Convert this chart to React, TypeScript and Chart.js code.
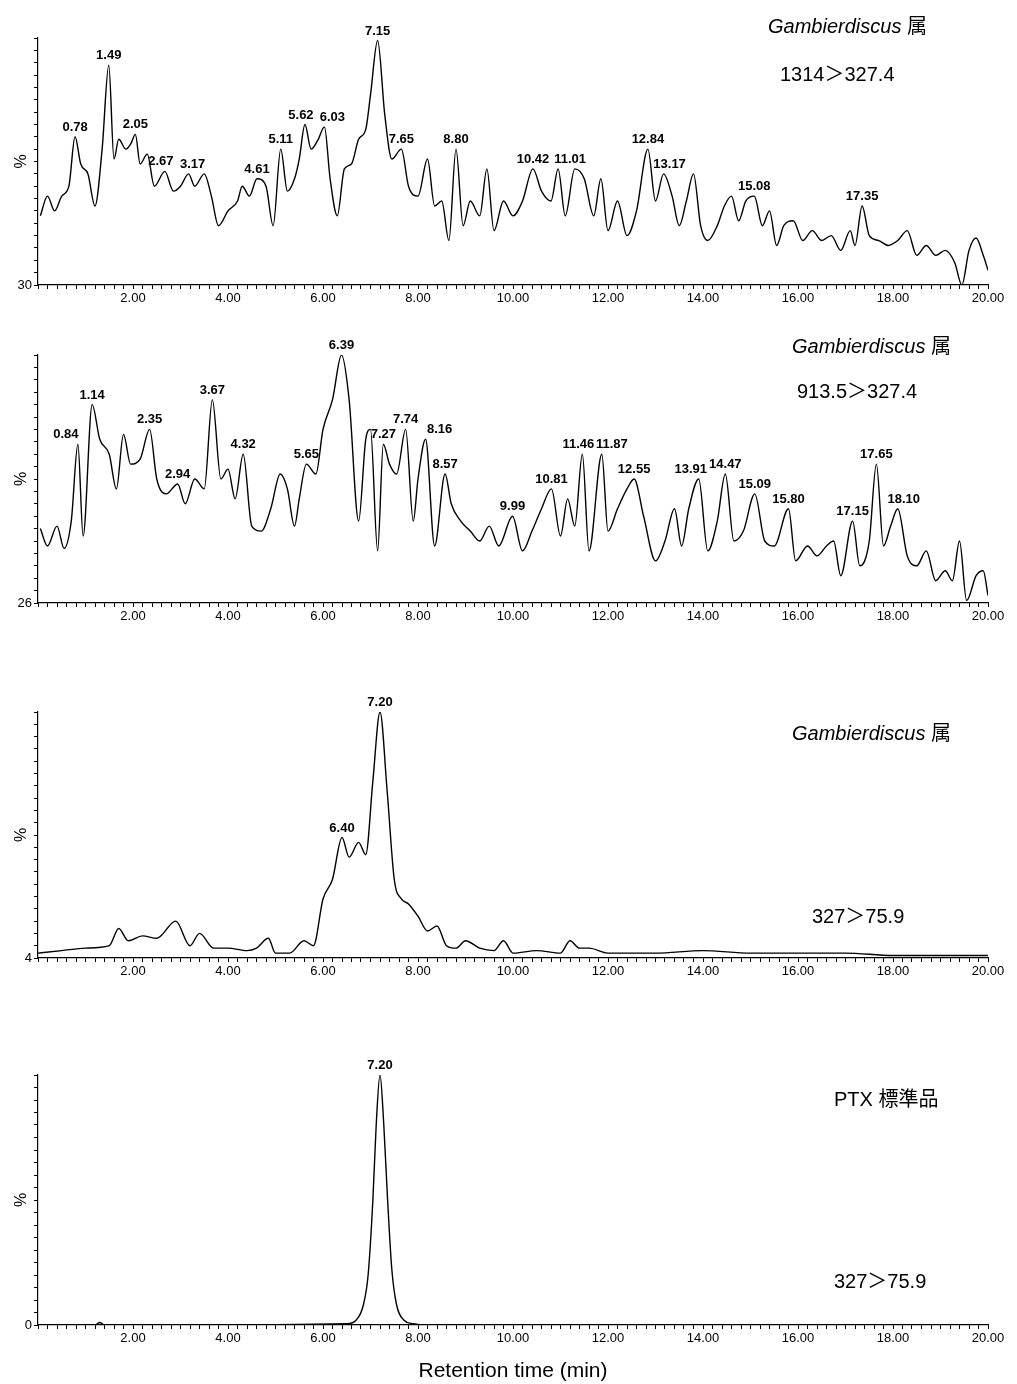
import React, { useEffect, useRef } from "react";
import { Chart, registerables } from "chart.js";
Chart.register(...registerables);

const xTicks = ["2.00","4.00","6.00","8.00","10.00","12.00","14.00","16.00","18.00","20.00"];

const rt1 = [0.05,0.2,0.35,0.5,0.65,0.78,0.9,1.05,1.2,1.35,1.49,1.6,1.7,1.85,1.95,2.05,2.15,2.3,2.45,2.67,2.85,3.0,3.17,3.3,3.5,3.65,3.8,4.0,4.2,4.3,4.45,4.61,4.8,4.95,5.11,5.25,5.4,5.5,5.62,5.75,5.9,6.03,6.15,6.3,6.45,6.6,6.75,6.9,7.0,7.15,7.3,7.45,7.65,7.8,8.0,8.2,8.35,8.5,8.65,8.8,8.95,9.1,9.3,9.45,9.6,9.8,10.0,10.2,10.42,10.6,10.8,10.95,11.1,11.3,11.5,11.7,11.85,12.0,12.2,12.4,12.6,12.84,13.0,13.17,13.35,13.5,13.65,13.8,13.95,14.1,14.3,14.45,14.6,14.75,14.9,15.08,15.25,15.4,15.55,15.7,15.9,16.1,16.3,16.5,16.7,16.9,17.1,17.2,17.35,17.5,17.7,17.9,18.1,18.3,18.5,18.7,18.9,19.1,19.3,19.45,19.6,19.75,19.9,20.0];
const int1 = [28,36,30,36,40,60,49,45,32,55,89,51,59,55,57,61,49,53,40,46,38,40,45,40,45,36,24,30,34,40,36,43,40,24,55,38,43,51,65,55,59,64,43,28,47,49,59,63,77,99,69,51,55,40,36,51,32,34,18,55,24,34,28,47,22,34,28,34,47,38,34,47,28,47,43,28,43,22,34,20,30,55,34,45,36,24,34,45,24,18,24,32,36,26,34,36,24,30,16,24,26,18,22,18,20,14,22,16,32,20,18,16,18,22,12,16,12,14,9,0,14,19,12,6];
const peaks1 = [["0.78",0.78,0],["1.49",1.49,0],["2.05",2.05,0],["2.67",2.67,-4],["3.17",3.17,4],["4.61",4.61,0],["5.11",5.11,0],["5.62",5.62,-4],["6.03",6.03,8],["7.15",7.15,0],["7.65",7.65,0],["8.80",8.8,0],["10.42",10.42,0],["11.01",10.95,12],["12.84",12.84,0],["13.17",13.17,6],["15.08",15.08,0],["17.35",17.35,0]];

const rt2 = [0.05,0.2,0.4,0.55,0.7,0.84,0.95,1.14,1.3,1.5,1.65,1.8,1.95,2.15,2.35,2.5,2.7,2.94,3.1,3.3,3.5,3.67,3.85,4.0,4.15,4.32,4.5,4.7,4.9,5.1,5.25,5.4,5.5,5.65,5.85,6.0,6.2,6.39,6.55,6.75,6.9,7.0,7.15,7.27,7.4,7.55,7.74,7.9,8.0,8.16,8.35,8.57,8.7,8.9,9.1,9.3,9.5,9.7,9.99,10.2,10.4,10.6,10.81,11.0,11.15,11.3,11.46,11.6,11.87,12.0,12.2,12.4,12.55,12.75,13.0,13.2,13.4,13.55,13.7,13.91,14.1,14.3,14.47,14.65,14.85,15.09,15.3,15.5,15.8,15.95,16.2,16.4,16.6,16.75,16.9,17.15,17.3,17.5,17.65,17.8,17.95,18.1,18.3,18.5,18.7,18.9,19.1,19.25,19.4,19.55,19.75,19.9,20.0];
const int2 = [30,23,31,22,33,64,27,80,66,60,46,68,56,58,70,50,44,48,40,50,46,82,50,54,42,60,31,29,38,52,46,31,42,56,52,70,82,100,82,33,66,70,21,64,56,52,70,33,50,66,23,52,40,33,29,25,31,23,35,21,29,38,46,27,42,31,60,21,60,29,38,46,50,35,17,25,38,23,38,50,21,33,52,25,29,44,25,23,38,17,23,19,23,25,11,33,15,25,56,23,31,38,19,15,21,9,13,9,25,1,11,13,3];
const peaks2 = [["0.84",0.84,-12],["1.14",1.14,0],["2.35",2.35,0],["2.94",2.94,0],["3.67",3.67,0],["4.32",4.32,0],["5.65",5.65,0],["6.39",6.39,0],["7.27",7.27,0],["7.74",7.74,0],["8.16",8.16,14],["8.57",8.57,0],["9.99",9.99,0],["10.81",10.81,0],["11.46",11.46,-4],["11.87",11.87,10],["12.55",12.55,0],["13.91",13.91,-8],["14.47",14.47,0],["15.09",15.09,0],["15.80",15.8,0],["17.15",17.15,0],["17.65",17.65,0],["18.10",18.1,6]];

const rt3 = [0,0.5,1.0,1.5,1.7,1.9,2.2,2.5,2.9,3.2,3.4,3.7,4.0,4.4,4.6,4.85,5.0,5.3,5.6,5.8,6.0,6.2,6.4,6.55,6.75,6.9,7.05,7.2,7.35,7.5,7.65,7.8,8.0,8.2,8.4,8.6,8.8,9.0,9.3,9.6,9.8,10.0,10.5,11.0,11.2,11.4,11.6,12.0,13.0,14.0,15.0,16.0,17.0,18.0,19.0,20.0];
const int3 = [2,3,4,5,12,7,9,8,15,5,10,4,4,3,4,8,2,2,7,5,24,32,49,41,47,42,72,100,68,32,24,22,17,11,13,5,4,7,4,3,7,2,3,2,7,4,4,2,2,3,2,2,2,1,1,1];
const peaks3 = [["6.40",6.4,0],["7.20",7.2,0]];

const rt4 = [0,1.2,1.3,1.4,3,6.5,6.7,6.85,6.95,7.05,7.12,7.2,7.28,7.36,7.45,7.55,7.7,7.9,8.2,20];
const int4 = [0,0,1,0,0,0.5,2,8,20,50,80,100,80,50,22,8,2,0.5,0,0];
const peaks4 = [["7.20",7.2,0]];

type P = { top: number; h: number; pt: number; xh: number; base: string; rt: number[]; v: number[]; peaks: any[]; title?: boolean };
const panels: P[] = [
  { top: 0, h: 320, pt: 38, xh: 35, base: "30", rt: rt1, v: int1, peaks: peaks1 },
  { top: 320, h: 320, pt: 35, xh: 37, base: "26", rt: rt2, v: int2, peaks: peaks2 },
  { top: 640, h: 360, pt: 72, xh: 42, base: "4", rt: rt3, v: int3, peaks: peaks3 },
  { top: 1000, h: 384, pt: 75, xh: 59, base: "0", rt: rt4, v: int4, peaks: peaks4, title: true },
];

function Panel({ p }: { p: P }) {
  const ref = useRef<HTMLCanvasElement>(null);
  useEffect(() => {
    const labelPlugin = {
      id: "lbl",
      afterDatasetsDraw(c: any) {
        const ctx = c.ctx, xs = c.scales.x, ys = c.scales.y;
        ctx.save();
        ctx.fillStyle = "#000";
        ctx.font = "bold 13px 'Liberation Sans', Arial";
        ctx.textAlign = "center";
        ctx.textBaseline = "bottom";
        p.peaks.forEach(([t, r, dx]: any) => {
          let best = 0;
          p.rt.forEach((x, i) => { if (Math.abs(x - r) < Math.abs(p.rt[best] - r)) best = i; });
          ctx.fillText(t, xs.getPixelForValue(r) + dx, ys.getPixelForValue(p.v[best]) - 3);
        });
        ctx.font = "16px 'Liberation Sans', Arial";
        ctx.translate(22, (c.chartArea.top + c.chartArea.bottom) / 2);
        ctx.rotate(-Math.PI / 2);
        ctx.textBaseline = "middle";
        ctx.fillText("%", 0, 0);
        ctx.restore();
      },
    };
    const chart = new Chart(ref.current!, {
      type: "line",
      data: { datasets: [{ data: p.rt.map((x, i) => ({ x, y: p.v[i] })), borderColor: "#000", borderWidth: 1.4, pointRadius: 0, cubicInterpolationMode: "monotone" } as any] },
      options: {
        animation: false, responsive: false, maintainAspectRatio: false,
        layout: { padding: { top: p.pt, right: 29, left: 0, bottom: 0 } },
        plugins: { legend: { display: false }, tooltip: { enabled: false } },
        scales: {
          x: {
            type: "linear", min: 0, max: 20,
            afterFit: (s: any) => { s.height = p.xh; },
            grid: { drawOnChartArea: false, tickLength: 4, color: "#000" },
            border: { color: "#000", width: 1.2 },
            ticks: {
              stepSize: 0.2, autoSkip: false, maxRotation: 0, color: "#000", padding: 2,
              font: { family: "'Liberation Sans', Arial", size: 13 },
              callback: (val: any) => { const n = Math.round(Number(val) * 10); return n > 0 && n % 20 === 0 ? xTicks[n / 20 - 1] : ""; },
            },
            title: { display: !!p.title, text: "Retention time (min)", color: "#000", font: { family: "'Liberation Sans', Arial", size: 21 }, padding: 0 },
          },
          y: {
            min: 0, max: 100,
            afterFit: (s: any) => { s.width = 38; },
            grid: { drawOnChartArea: false, tickLength: 4, color: "#000" },
            border: { color: "#000", width: 1.2 },
            ticks: { stepSize: 5, autoSkip: false, color: "#000", padding: 2, font: { family: "'Liberation Sans', Arial", size: 13 }, callback: (val: any) => (Number(val) === 0 ? p.base : "") },
          },
        },
      },
      plugins: [labelPlugin],
    });
    return () => chart.destroy();
  }, []);
  return <canvas ref={ref} width={1017} height={p.h} style={{ position: "absolute", left: 0, top: p.top, width: 1017, height: p.h }} />;
}

const txt = (s: any, l: number, t: number, extra: any = {}) => (
  <div style={{ position: "absolute", left: l, top: t, fontSize: 20, fontFamily: "'Liberation Sans', 'Noto Sans CJK JP', Arial", whiteSpace: "nowrap", ...extra }}>{s}</div>
);

export default function App() {
  useEffect(() => { document.body.style.margin = "0"; }, []);
  return (
    <div style={{ position: "relative", width: 1017, height: 1384, background: "#fff" }}>
      {panels.map((p, i) => <Panel key={i} p={p} />)}
      {txt(<span><i>Gambierdiscus</i> 属</span>, 768, 10)}
      {txt("1314＞327.4", 780, 58)}
      {txt(<span><i>Gambierdiscus</i> 属</span>, 792, 330)}
      {txt("913.5＞327.4", 797, 375)}
      {txt(<span><i>Gambierdiscus</i> 属</span>, 792, 717)}
      {txt("327＞75.9", 812, 900)}
      {txt("PTX 標準品", 834, 1083)}
      {txt("327＞75.9", 834, 1265)}
    </div>
  );
}
